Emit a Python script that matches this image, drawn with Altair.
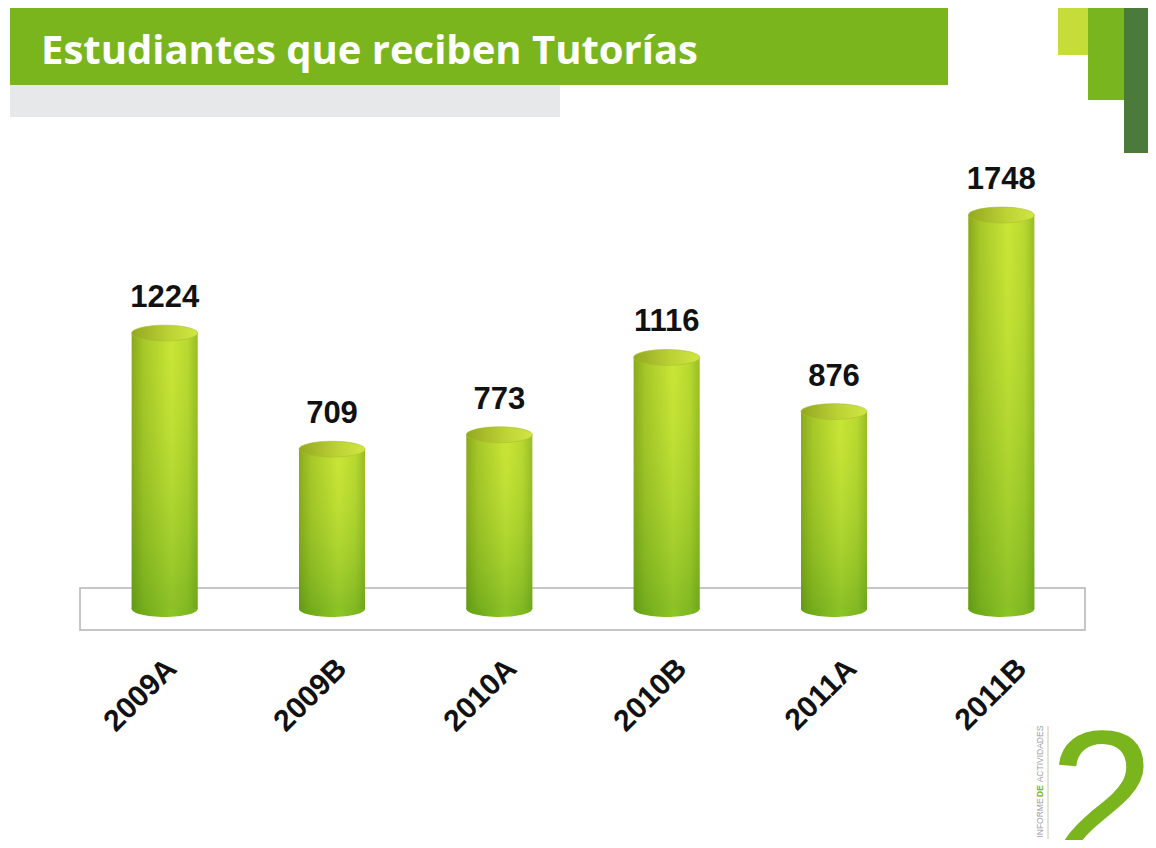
import altair as alt
import pandas as pd

periodos = ["2009A", "2009B", "2010A", "2010B", "2011A", "2011B"]
estudiantes = [1224, 709, 773, 1116, 876, 1748]

titulo = "Estudiantes que reciben Tutorías"

df = pd.DataFrame({"periodo": periodos, "valor": estudiantes})
one = pd.DataFrame({"k": [0]})

W, H = 1140, 832

xs = alt.X("periodo:N", sort=periodos, axis=None,
           scale=alt.Scale(type="band", domain=periodos, range=[73, 1077],
                           paddingInner=0, paddingOuter=0))
ys = alt.Y("valor:Q", axis=None, scale=alt.Scale(domain=[0, 1748], range=[601, 207], zero=True, nice=False))

ellipse = "M -1 0 A 1 0.24 0 1 1 1 0 A 1 0.24 0 1 1 -1 0 Z"
BW = 66

body_grad = alt.Gradient(gradient="linear", x1=0, x2=1, y1=0, y2=0, stops=[
    alt.GradientStop(offset=0, color="#7a9c16"),
    alt.GradientStop(offset=0.18, color="#9cc024"),
    alt.GradientStop(offset=0.6, color="#c6e436"),
    alt.GradientStop(offset=0.85, color="#b2d42e"),
    alt.GradientStop(offset=1, color="#8cb420"),
])
shade_grad = alt.Gradient(gradient="linear", x1=0, x2=0, y1=0, y2=1, stops=[
    alt.GradientStop(offset=0, color="rgba(220,240,60,0.15)"),
    alt.GradientStop(offset=1, color="rgba(70,150,20,0.45)"),
])
top_grad = alt.Gradient(gradient="linear", x1=0, x2=1, y1=0, y2=0, stops=[
    alt.GradientStop(offset=0, color="#93a820"),
    alt.GradientStop(offset=0.6, color="#bed436"),
    alt.GradientStop(offset=1, color="#d0e642"),
])
bottom_grad = alt.Gradient(gradient="linear", x1=0, x2=1, y1=0, y2=0, stops=[
    alt.GradientStop(offset=0, color="#64a014"),
    alt.GradientStop(offset=0.6, color="#8cc626"),
    alt.GradientStop(offset=1, color="#78b01e"),
])

def deco_rect(x, x2, y, y2, color):
    return alt.Chart(one).mark_rect(color=color, opacity=1).encode(
        x=alt.value(x), x2=alt.value(x2), y=alt.value(y), y2=alt.value(y2))

green_bar = deco_rect(2, 940, 0, 77, "#7ab51d")
grey_bar = deco_rect(2, 552, 77, 109, "#e7e8ea")
sq1 = deco_rect(1050, 1080, 0, 47, "#c6dc38")
sq2 = deco_rect(1080, 1116, 0, 92, "#79b51f")
sq3 = deco_rect(1116, 1148, 0, 145, "#4b7b3b")

title = alt.Chart(one).mark_text(
    text=titulo, font="Open Sans", fontWeight="bold", fontSize=40, color="white",
    align="left", baseline="alphabetic").encode(x=alt.value(33), y=alt.value(56))

floor = alt.Chart(one).mark_rect(fill="white", stroke="#b4b4b4", strokeWidth=1.5).encode(
    x=alt.value(72), x2=alt.value(1077), y=alt.value(580), y2=alt.value(622))

base = alt.Chart(df)

bottom = base.mark_point(shape=ellipse, size=BW * BW, filled=True, fill=bottom_grad,
                         opacity=1, strokeWidth=0).encode(
    x=xs, y=alt.Y("z:Q", scale=alt.Scale(domain=[0, 1748], range=[601, 207]), axis=None)
).transform_calculate(z="0")
body = base.mark_bar(width=BW, fill=body_grad, opacity=1).encode(x=xs, y=ys)
shade = base.mark_bar(width=BW, fill=shade_grad, opacity=1).encode(x=xs, y=ys)
top = base.mark_point(shape=ellipse, size=BW * BW, filled=True, fill=top_grad,
                      opacity=1, stroke="#a8c030", strokeWidth=0.6).encode(x=xs, y=ys)

values = base.mark_text(font="Liberation Sans", fontWeight="bold", fontSize=31,
                        color="#111111", dy=-26, baseline="alphabetic").encode(
    x=xs, y=ys, text="valor:Q")

labels = alt.Chart(df).mark_text(font="Liberation Sans", fontWeight="bold", fontSize=30,
                                 color="#111111", angle=315, align="right",
                                 baseline="middle").encode(
    x=alt.X("periodo:N", sort=periodos, axis=None,
            scale=alt.Scale(type="band", domain=periodos, range=[79, 1099],
                            paddingInner=0, paddingOuter=0)),
    y=alt.value(656), text="periodo:N")

two = alt.Chart(one).mark_text(text="2", font="Liberation Sans", fontWeight="normal", fontSize=192,
                               color="#7ab51d", align="center", baseline="alphabetic").encode(
    x=alt.value(1094), y=alt.value(856))
vline = alt.Chart(one).mark_rule(color="#c4cca8", strokeWidth=1).encode(
    x=alt.value(1040), y=alt.value(718), y2=alt.value(831))
t1 = alt.Chart(one).mark_text(text="ACTIVIDADES", font="Liberation Sans", fontSize=8.5,
                              color="#a0a0a0", angle=270, align="center", baseline="middle").encode(
    x=alt.value(1032), y=alt.value(746))
t2 = alt.Chart(one).mark_text(text="DE", font="Liberation Sans", fontWeight="bold", fontSize=8.5,
                              color="#7ab51d", angle=270, align="center", baseline="middle").encode(
    x=alt.value(1032), y=alt.value(783))
t3 = alt.Chart(one).mark_text(text="INFORME", font="Liberation Sans", fontSize=8.5,
                              color="#a0a0a0", angle=270, align="center", baseline="middle").encode(
    x=alt.value(1032), y=alt.value(810))

chart = alt.layer(
    green_bar, grey_bar, sq1, sq2, sq3, title, floor,
    bottom, body, shade, top, values, labels,
    vline, t1, t2, t3, two
).resolve_scale(x="independent", y="independent").properties(
    width=W, height=H, padding=0, autosize=alt.AutoSizeParams(type="none"),
    background="white"
).configure_view(stroke=None)

chart.save("out.html", embed_options={"renderer": "svg", "actions": False})
